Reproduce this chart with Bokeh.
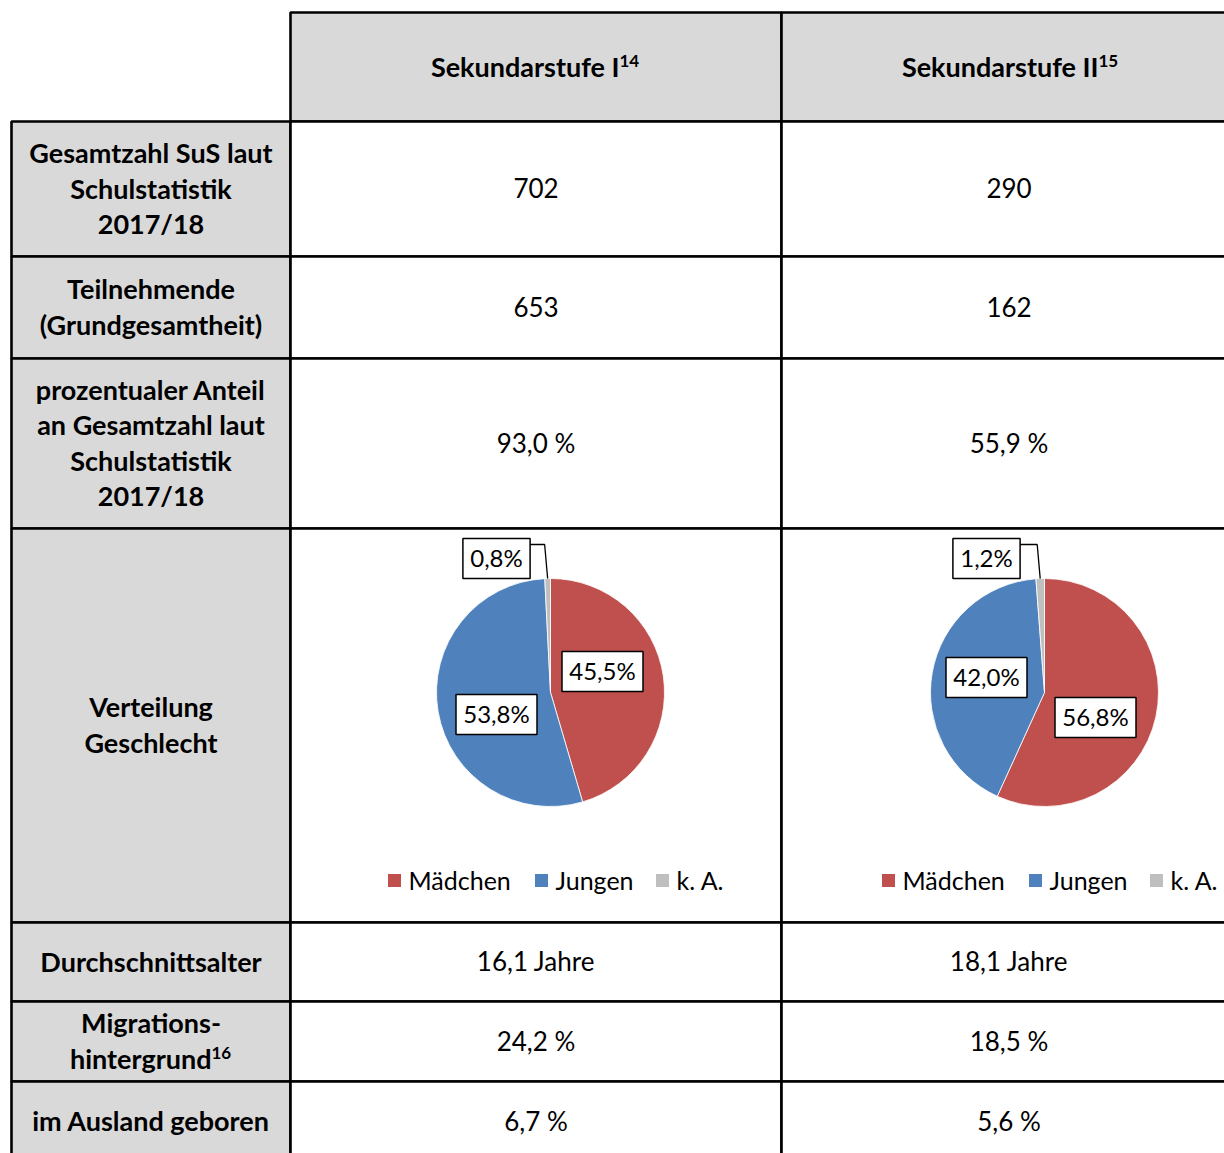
import numpy as np
from bokeh.plotting import figure
from bokeh.models import Range1d, ColumnDataSource
from bokeh.core.properties import value
from bokeh.embed import file_html
from bokeh.resources import INLINE

# ---------------- data ----------------
columns = ["Sekundarstufe I", "Sekundarstufe II"]
column_notes = ["14", "15"]
row_labels = [
    ["Gesamtzahl SuS laut", "Schulstatistik", "2017/18"],
    ["Teilnehmende", "(Grundgesamtheit)"],
    ["prozentualer Anteil", "an Gesamtzahl laut", "Schulstatistik", "2017/18"],
    ["Verteilung", "Geschlecht"],
    ["Durchschnittsalter"],
    ["Migrations-", "hintergrund"],
    ["im Ausland geboren"],
]
row_notes = ["", "", "", "", "", "16", ""]
values_sek1 = ["702", "653", "93,0 %", "", "16,1 Jahre", "24,2 %", "6,7 %"]
values_sek2 = ["290", "162", "55,9 %", "", "18,1 Jahre", "18,5 %", "5,6 %"]
gender_categories = ["Mädchen", "Jungen", "k. A."]
gender_sek1 = [45.5, 53.8, 0.8]
gender_sek2 = [56.8, 42.0, 1.2]

# ---------------- layout / style ----------------
W, H = 1224, 1153
X0, Y0 = 0, 0
col_edges = [11, 290, 781, 1236]
row_edges = [12, 121, 256, 358, 528, 922, 1001, 1081, 1161]
LINE_SP = 35.5
FONT = "Lato"
HDR_GRAY = "#D9D9D9"
slice_colors = ["#C0504D", "#4F81BD", "#BFBFBF"]
BORDER_W = 2.6
PIE_R = 114
PIE_CY = 692
LEGEND_Y = 880
legend_dx = [-156, -9, 112]
TEXT_DY = -1
# label offsets relative to pie centre (style: Excel "best fit" placement)
label_offsets = [
    [(52, -21), (-54, 22), (-54, -134)],
    [(51, 25), (-58, -15), (-58, -134)],
]
sup_anchor_hdr = [(619, 619), (1098, 1098)]
sup_anchor_row = {5: (211, 211)}
SUP_RAISE = 5


def Y(v):
    return -v


p = figure(width=W, height=H,
           x_range=Range1d(X0, X0 + W), y_range=Range1d(-(Y0 + H), -Y0),
           output_backend="svg", toolbar_location=None, min_border=0,
           x_axis_location=None, y_axis_location=None)
p.grid.visible = False
p.outline_line_color = None
p.background_fill_color = "white"
p.border_fill_color = "white"

# ---------------- cells ----------------
lefts, rights, tops, bottoms, fills = [], [], [], [], []
for j in range(len(columns)):
    lefts.append(col_edges[j + 1]); rights.append(col_edges[j + 2])
    tops.append(Y(row_edges[0])); bottoms.append(Y(row_edges[1])); fills.append(HDR_GRAY)
for i in range(len(row_labels)):
    lefts.append(col_edges[0]); rights.append(col_edges[1])
    tops.append(Y(row_edges[i + 1])); bottoms.append(Y(row_edges[i + 2])); fills.append(HDR_GRAY)
    for j in range(len(columns)):
        lefts.append(col_edges[j + 1]); rights.append(col_edges[j + 2])
        tops.append(Y(row_edges[i + 1])); bottoms.append(Y(row_edges[i + 2])); fills.append("white")
p.quad(left=lefts, right=rights, top=tops, bottom=bottoms, fill_color=fills,
       line_color="black", line_width=BORDER_W)

col_cx = [(col_edges[j + 1] + col_edges[j + 2]) / 2 for j in range(len(columns))]
lab_cx = (col_edges[0] + col_edges[1]) / 2

# header texts
hdr_y = (row_edges[0] + row_edges[1]) / 2 + TEXT_DY
for j, name in enumerate(columns):
    xr, xs = sup_anchor_hdr[j]
    p.text(x=[xr], y=[Y(hdr_y)], text=[name], text_align="right", text_baseline="middle",
           text_font=value(FONT), text_font_style="bold", text_font_size="27px", text_color="black")
    p.text(x=[xs], y=[Y(hdr_y - SUP_RAISE)], text=[column_notes[j]], text_align="left", text_baseline="middle",
           text_font=value(FONT), text_font_style="bold", text_font_size="17px", text_color="black")

# row labels and values
for i, lines in enumerate(row_labels):
    rc = (row_edges[i + 1] + row_edges[i + 2]) / 2 + TEXT_DY
    n = len(lines)
    for k, line in enumerate(lines):
        ly = rc + (k - (n - 1) / 2) * LINE_SP
        if k == n - 1 and row_notes[i]:
            xr, xs = sup_anchor_row[i]
            p.text(x=[xr], y=[Y(ly)], text=[line], text_align="right", text_baseline="middle",
                   text_font=value(FONT), text_font_style="bold", text_font_size="27px", text_color="black")
            p.text(x=[xs], y=[Y(ly - SUP_RAISE)], text=[row_notes[i]], text_align="left", text_baseline="middle",
                   text_font=value(FONT), text_font_style="bold", text_font_size="17px", text_color="black")
        else:
            p.text(x=[lab_cx], y=[Y(ly)], text=[line], text_align="center", text_baseline="middle",
                   text_font=value(FONT), text_font_style="bold", text_font_size="27px", text_color="black")
    for j, vals in enumerate([values_sek1, values_sek2]):
        if vals[i]:
            p.text(x=[col_cx[j]], y=[Y(rc)], text=[vals[i]], text_align="center", text_baseline="middle",
                   text_font=value(FONT), text_font_size="26px", text_color="black")

# ---------------- pies ----------------
pie_cx = [550, 1044]
for k, vals in enumerate([gender_sek1, gender_sek2]):
    cx = pie_cx[k]
    fr = np.array(vals) / np.sum(vals)
    cum = np.concatenate([[0.0], np.cumsum(fr)])
    start = np.pi / 2 - 2 * np.pi * cum[:-1]
    end = np.pi / 2 - 2 * np.pi * cum[1:]
    src = ColumnDataSource(dict(start=start, end=end, color=slice_colors))
    p.wedge(x=cx, y=Y(PIE_CY), radius=PIE_R, start_angle="start", end_angle="end",
            direction="clock", fill_color="color", line_color="white", line_width=0.8, source=src)

    # data labels
    texts = [f"{v:.1f}".replace(".", ",") + "%" for v in vals]
    lx = [cx + label_offsets[k][m][0] for m in range(3)]
    ly = [PIE_CY + label_offsets[k][m][1] for m in range(3)]
    bw = [12 + 13.8 * len(t) for t in texts]
    p.rect(x=lx, y=[Y(v) for v in ly], width=bw, height=40, fill_color="white",
           line_color="black", line_width=1.5)
    p.text(x=lx, y=[Y(v + TEXT_DY) for v in ly], text=texts, text_align="center", text_baseline="middle",
           text_font=value(FONT), text_font_size="24px", text_color="black")

    # leader line for the small slice
    m = 2
    theta = np.pi / 2 - 2 * np.pi * (cum[m] + fr[m] / 2)
    ex = cx + PIE_R * np.cos(theta)
    ey = Y(PIE_CY) + PIE_R * np.sin(theta)
    attach_y = Y(ly[m] - 14)
    p.line(x=[lx[m] + bw[m] / 2, ex - 3, ex], y=[attach_y, attach_y, ey],
           line_color="black", line_width=1.3)

    # legend
    sq_x = [cx + d for d in legend_dx]
    p.rect(x=sq_x, y=[Y(LEGEND_Y)] * 3, width=13, height=13, fill_color=slice_colors, line_color=None)
    p.text(x=[s + 14 for s in sq_x], y=[Y(LEGEND_Y + TEXT_DY)] * 3, text=gender_categories,
           text_align="left", text_baseline="middle",
           text_font=value(FONT), text_font_size="25px", text_color="#000000")

open("out.html", "w").write(file_html(p, INLINE))
